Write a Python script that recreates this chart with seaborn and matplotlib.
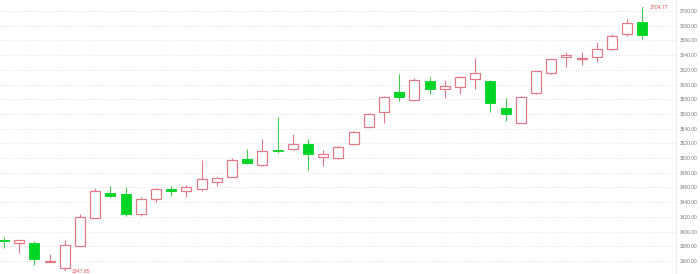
import numpy as np
import pandas as pd
import matplotlib
matplotlib.use("Agg")
import matplotlib.pyplot as plt
import seaborn as sns

# ---- data ----
opens = [3388, 3385, 3384, 3358.5, 3350, 3380, 3419, 3452, 3450.5, 3423.5,
         3444.5, 3457.5, 3455.5, 3458, 3467, 3474.5, 3498.5, 3490.5, 3511, 3512,
         3519, 3502, 3499.5, 3518.5, 3542.5, 3562, 3589.5, 3579, 3605, 3594.5,
         3596, 3608, 3605, 3567.5, 3547, 3588, 3616, 3638, 3635, 3637,
         3648, 3668.5, 3685.5]
closes = [3387, 3388, 3362, 3360.5, 3381, 3420, 3455.5, 3449, 3424, 3444,
          3457.5, 3455, 3460, 3471, 3472.5, 3497, 3493, 3509.5, 3510, 3519,
          3505, 3505, 3515.5, 3535, 3559.5, 3582.5, 3582.5, 3606, 3594, 3598,
          3610, 3616, 3574.5, 3560.5, 3583.5, 3618.5, 3634.5, 3640, 3636.5, 3648,
          3666, 3683.5, 3667.5]
highs = [3392, 3389, 3387, 3370, 3388, 3424, 3459, 3462, 3461, 3446.5,
         3459, 3462, 3463, 3497, 3474.5, 3499.5, 3512, 3525.5, 3555.5, 3532.5,
         3526, 3511, 3516.5, 3536.5, 3561, 3584.5, 3614, 3608.5, 3610.5, 3606,
         3611.5, 3636, 3606, 3581, 3584, 3619, 3635, 3644.5, 3644.5, 3658,
         3668.5, 3689, 3704.77]
lows = [3377, 3371, 3354, 3358, 3347.65, 3380, 3418, 3447, 3421, 3421,
        3440.5, 3448, 3446.5, 3455.5, 3462, 3474, 3491.5, 3489.5, 3507, 3511,
        3483.5, 3489, 3499, 3518, 3542, 3547, 3578, 3578, 3586.5, 3582,
        3586.5, 3594.5, 3563, 3550.5, 3547, 3587.5, 3614.5, 3623.5, 3626.5, 3630,
        3647, 3666.5, 3662]
y_ticks = list(range(3360, 3701, 20))

df = pd.DataFrame({"open": opens, "close": closes, "high": highs, "low": lows})
df["idx"] = np.arange(len(df))
df["up"] = df["close"] >= df["open"]

UP = "#e4798a"
DOWN = "#00d424"
DOWN_WICK = "#44cc55"

sns.set_theme(style="white")
plt.rcParams["font.family"] = ["Liberation Sans", "DejaVu Sans"]
fig = plt.figure(figsize=(7.0, 2.74), dpi=100)
ax = fig.add_axes([0, 0, 676 / 700, 1])

# wicks
for up, sub in df.groupby("up"):
    ax.vlines(sub["idx"], sub["low"], sub["high"],
              color=UP if up else DOWN_WICK, linewidth=0.8, zorder=2)

# bodies
w = 0.66
bottoms = np.minimum(df["open"], df["close"])
heights = np.maximum(np.abs(df["close"] - df["open"]), 0.6)
up = df["up"].values
ax.bar(df["idx"][up], heights[up], bottom=bottoms[up], width=w,
       facecolor="white", edgecolor=UP, linewidth=0.9, zorder=3)
ax.bar(df["idx"][~up], heights[~up], bottom=bottoms[~up], width=w,
       facecolor=DOWN, edgecolor=DOWN, linewidth=0.6, zorder=3)

# min / max markers
imin = int(np.argmin(lows))
imax = int(np.argmax(highs))
ax.annotate(f"{lows[imin]:.2f}", xy=(imin, lows[imin]), xytext=(5, -1),
            textcoords="offset points", fontsize=3.7, color="#e05050",
            va="center", ha="left",
            arrowprops=dict(arrowstyle="-", color="#e05050", lw=0.5))
ax.annotate(f"{highs[imax]:.2f}", xy=(imax, highs[imax]), xytext=(5, 0),
            textcoords="offset points", fontsize=3.7, color="#e05050",
            va="center", ha="left",
            arrowprops=dict(arrowstyle="-", color="#e05050", lw=0.5))

ax.set_xlim(-0.263, 44.21)
ax.set_ylim(3342.2, 3715.0)
ax.set_yticks(y_ticks)
ax.set_yticklabels([f"{v:.2f}" for v in y_ticks])
ax.yaxis.tick_right()
ax.tick_params(axis="y", length=0, pad=3.0, labelsize=3.5, labelcolor="#7a7a7a")
ax.set_xticks([])
ax.grid(axis="y", linestyle=(0, (1.5, 2)), color="#e0e0e0", linewidth=0.6, zorder=0)
ax.grid(axis="x", visible=False)
for s in ["top", "left", "bottom"]:
    ax.spines[s].set_visible(False)
ax.spines["right"].set_color("#ececec")
ax.spines["right"].set_linewidth(0.8)
ax.set_facecolor("white")

fig.savefig("out.png", dpi=100, facecolor="white")
